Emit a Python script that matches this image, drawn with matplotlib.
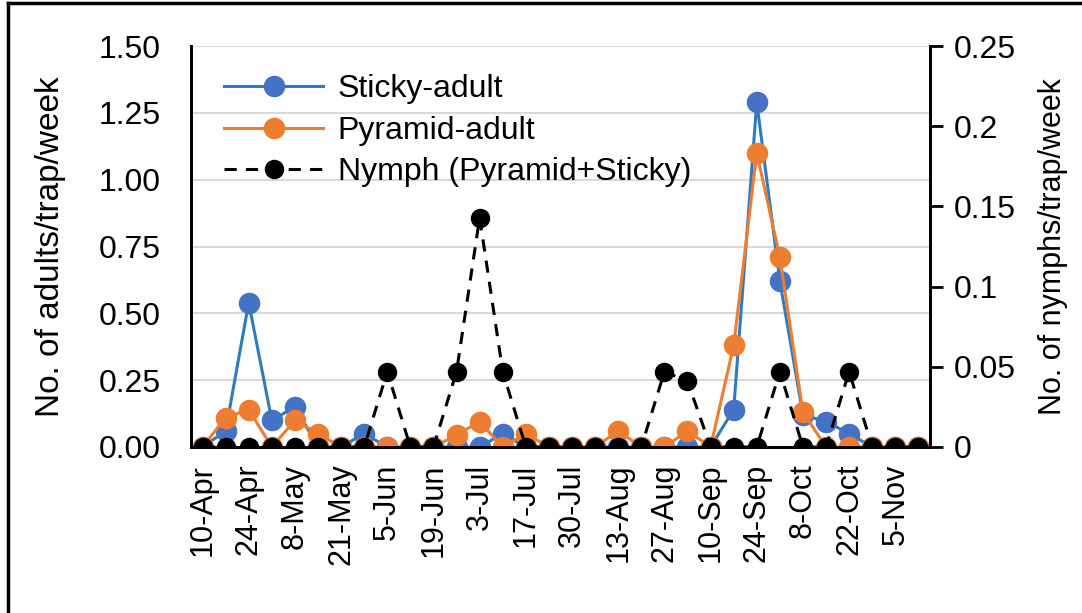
import matplotlib
matplotlib.use("Agg")
import matplotlib.pyplot as plt
from matplotlib.lines import Line2D
import numpy as np

plt.rcParams['font.family'] = ['Liberation Sans', 'DejaVu Sans']

# Weekly sampling dates (labels shown every 2nd week)
tick_labels = ['10-Apr', '24-Apr', '8-May', '21-May', '5-Jun', '19-Jun', '3-Jul', '17-Jul',
               '30-Jul', '13-Aug', '27-Aug', '10-Sep', '24-Sep', '8-Oct', '22-Oct', '5-Nov']
n_weeks = 32

# Adults per trap per week (left axis)
sticky_adult = [0, 0.06, 0.54, 0.10, 0.15, 0, 0, 0.05, 0, 0, 0, 0, 0, 0.05, 0, 0,
                0, 0, 0, 0, 0, 0, 0, 0.14, 1.29, 0.62, 0.12, 0.095, 0.05, 0, 0, 0]
pyramid_adult = [0, 0.11, 0.14, 0, 0.10, 0.05, 0, 0, 0, 0, 0, 0.045, 0.095, 0, 0.05, 0,
                 0, 0, 0.06, 0, 0, 0.06, 0, 0.38, 1.10, 0.71, 0.13, 0, 0, 0, 0, 0]
# Nymphs per trap per week (right axis)
nymph = [0, 0, 0, 0, 0, 0, 0, 0, 0.047, 0, 0, 0.047, 0.143, 0.047, 0, 0,
         0, 0, 0, 0, 0.047, 0.041, 0, 0, 0, 0.047, 0, 0, 0.047, 0, 0, 0]

x = np.arange(n_weeks)

fig = plt.figure(figsize=(10.82, 6.13), dpi=100)
ax = fig.add_axes([0.1765, 0.2708, 0.683, 0.654])
ax2 = ax.twinx()

# Adult series
l1, = ax.plot(x, sticky_adult, color='#2E7BBF', lw=2.2, marker='o', ms=14.5,
              mfc='#4472C4', mec='#4472C4', label='Sticky-adult', zorder=3)
l2, = ax.plot(x, pyramid_adult, color='#ED7D31', lw=2.2, marker='o', ms=14.5,
              mfc='#ED7D31', mec='#ED7D31', label='Pyramid-adult', zorder=4)
# Nymph series
l3, = ax2.plot(x, nymph, color='black', lw=2.2, ls=(0, (4, 3)), marker='o', ms=13,
               mfc='black', mec='black', label='Nymph (Pyramid+Sticky)', zorder=5)

ax.set_xlim(-0.5, n_weeks - 0.5)
ax.set_ylim(0, 1.5)
ax.set_yticks(np.arange(0, 1.51, 0.25))
ax.set_yticklabels(['%.2f' % v for v in np.arange(0, 1.51, 0.25)])
ax.yaxis.grid(True, color='#d9d9d9', lw=1.5)
ax.set_axisbelow(True)

ax2.set_ylim(0, 0.25)
ax2.set_yticks([0, 0.05, 0.1, 0.15, 0.2, 0.25])
ax2.set_yticklabels(['0', '0.05', '0.1', '0.15', '0.2', '0.25'])

ax.set_xticks(x[::2])
ax.set_xticklabels(tick_labels, rotation=90, fontsize=22)

for a in (ax, ax2):
    a.spines['top'].set_visible(False)
    for s in ('left', 'right', 'bottom'):
        a.spines[s].set_linewidth(2)
        a.spines[s].set_color('black')

ax.tick_params(axis='x', length=0, pad=12)
ax.tick_params(axis='y', length=0, labelsize=23, pad=22)
ax2.tick_params(axis='y', length=9, width=2, direction='out', labelsize=23, pad=8)

ax.set_ylabel('No. of adults/trap/week', fontsize=24, labelpad=23)
ax2.set_ylabel('No. of nymphs/trap/week', fontsize=22, labelpad=16)

ax2.legend(handles=[l1, l2, l3], loc='upper left', bbox_to_anchor=(0.015, 0.985),
           frameon=False, fontsize=23, handlelength=3.1, handletextpad=0.45,
           labelspacing=0.36, borderaxespad=0.3)

# Outer chart border (top and left edges visible in the crop)
fig.add_artist(Line2D([0.0075, 0.0075], [0, 0.995], color='black', lw=2.5,
                      transform=fig.transFigure))
fig.add_artist(Line2D([0.0075, 1.0], [0.995, 0.995], color='black', lw=2.5,
                      transform=fig.transFigure))

fig.savefig('out.png', dpi=100)
